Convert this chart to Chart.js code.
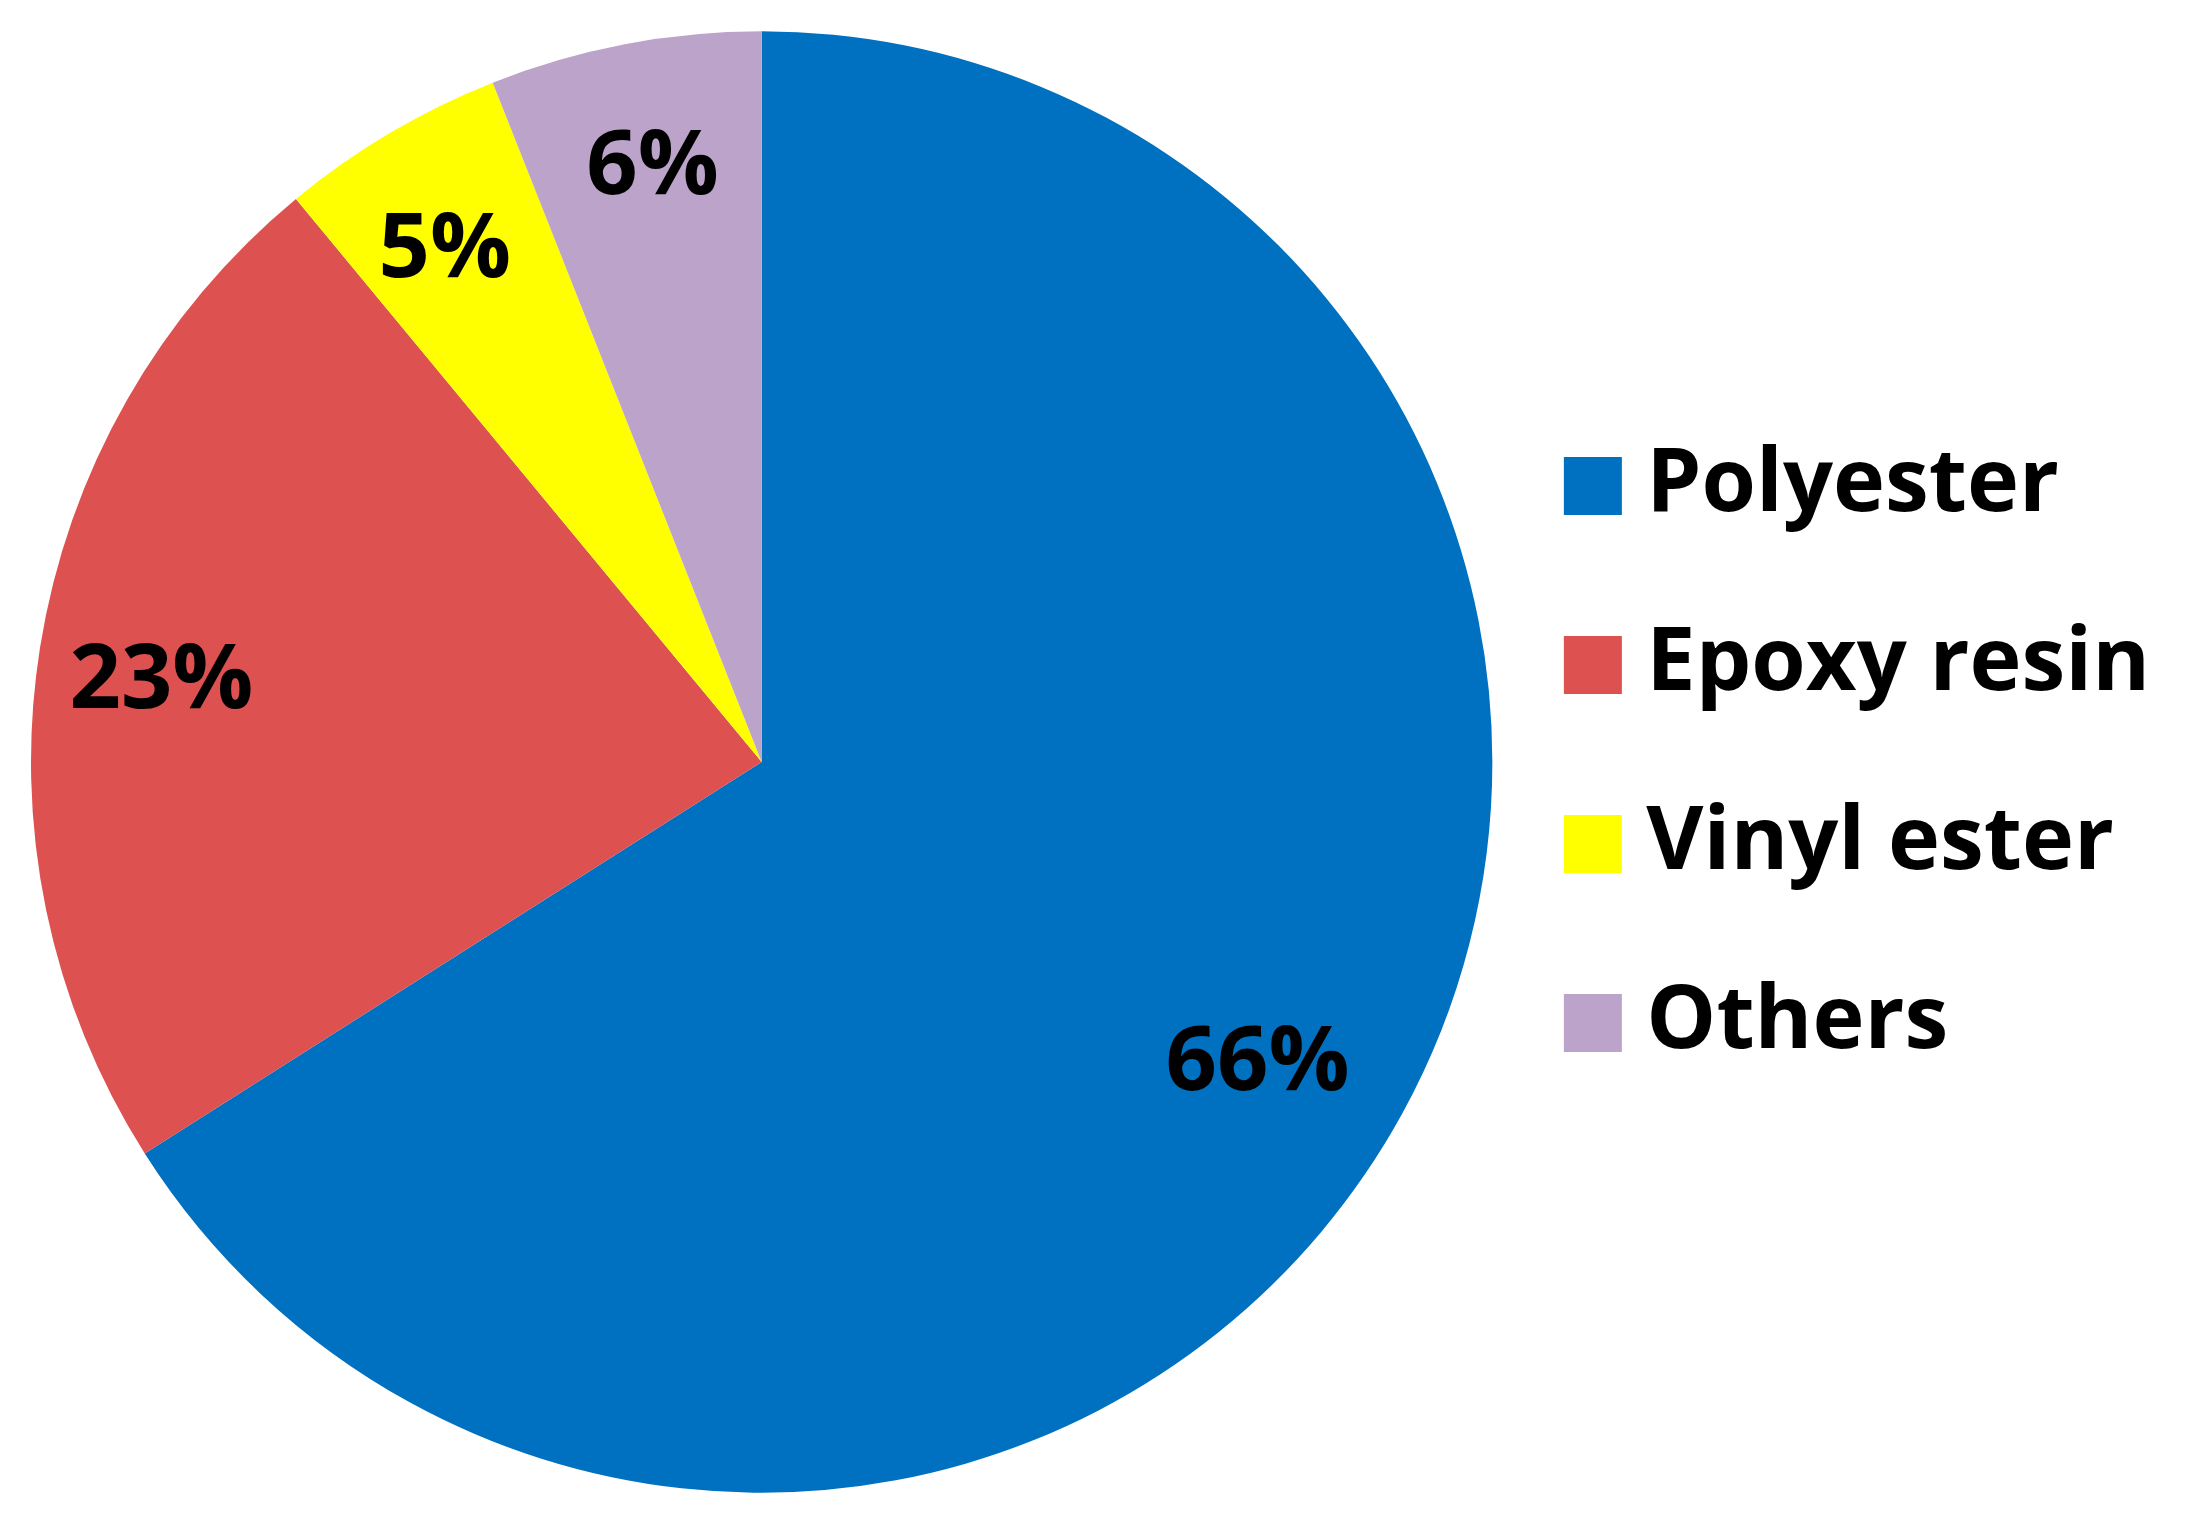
<!DOCTYPE html>
<html>
<head>
<meta charset="utf-8">
<title>Resin share</title>
<script src="https://cdn.jsdelivr.net/npm/chart.js@4.4.1/dist/chart.umd.min.js"></script>
<style>
  html, body { margin: 0; padding: 0; background: #fff; }
  #pie { display: block; }
</style>
</head>
<body>
<canvas id="pie" width="2185" height="1536"></canvas>
<script>
// data
const resinTypes = ["Polyester", "Epoxy resin", "Vinyl ester", "Others"];
const resinShare = [66, 23, 5, 6];
const sliceColors = ["#0070C0", "#DD5150", "#FFFF00", "#BBA3CA"];

Chart.defaults.font.family = "'Open Sans', 'Noto Sans', sans-serif";
Chart.defaults.font.weight = "bold";
Chart.defaults.color = "#000";

/* percent labels inside the slices */
const sliceLabels = {
  id: 'sliceLabels',
  afterDatasetsDraw(chart, args, opts) {
    const ctx = chart.ctx;
    const meta = chart.getDatasetMeta(0);
    const size = opts.size;
    ctx.save();
    ctx.font = "bold " + size + "px 'Open Sans', sans-serif";
    ctx.fillStyle = "#000";
    ctx.textAlign = "center";
    ctx.textBaseline = "alphabetic";
    meta.data.forEach(function(arc, i) {
      const p = arc.getProps(['x', 'y', 'startAngle', 'endAngle', 'outerRadius'], true);
      const mid = (p.startAngle + p.endAngle) / 2 + (opts.nudge[i] || 0) * Math.PI / 180;
      const r = p.outerRadius * opts.radius[i];
      // baseline pushed down by half the digit height so the glyphs sit centred
      ctx.fillText(resinShare[i] + "%", p.x + Math.cos(mid) * r, p.y + Math.sin(mid) * r + size * 0.357);
    });
    ctx.restore();
  }
};

new Chart(document.getElementById("pie"), {
  type: 'pie',
  data: {
    labels: resinTypes,
    datasets: [{
      data: resinShare,
      backgroundColor: sliceColors,
      borderWidth: 0
    }]
  },
  options: {
    responsive: false,
    animation: false,
    layout: {
      padding: { top: 31, bottom: 43, left: 31, right: 25 }
    },
    plugins: {
      tooltip: { enabled: false },
      sliceLabels: {
        size: 90,
        radius: [0.79, 0.83, 0.83, 0.835],
        nudge: [2, -0.8, -0.9, 0.5]
      },
      legend: {
        position: 'right',
        align: 'center',
        // empty title with negative padding lifts the legend block a little
        title: { display: true, text: ' ', font: { size: 10 }, padding: { top: -27, bottom: 0 } },
        labels: {
          usePointStyle: true,
          pointStyle: 'rect',
          boxWidth: 19,
          boxHeight: 58,
          padding: 91,
          color: '#000',
          font: { size: 88, weight: 'bold' }
        }
      }
    }
  },
  plugins: [sliceLabels]
});
</script>
</body>
</html>
